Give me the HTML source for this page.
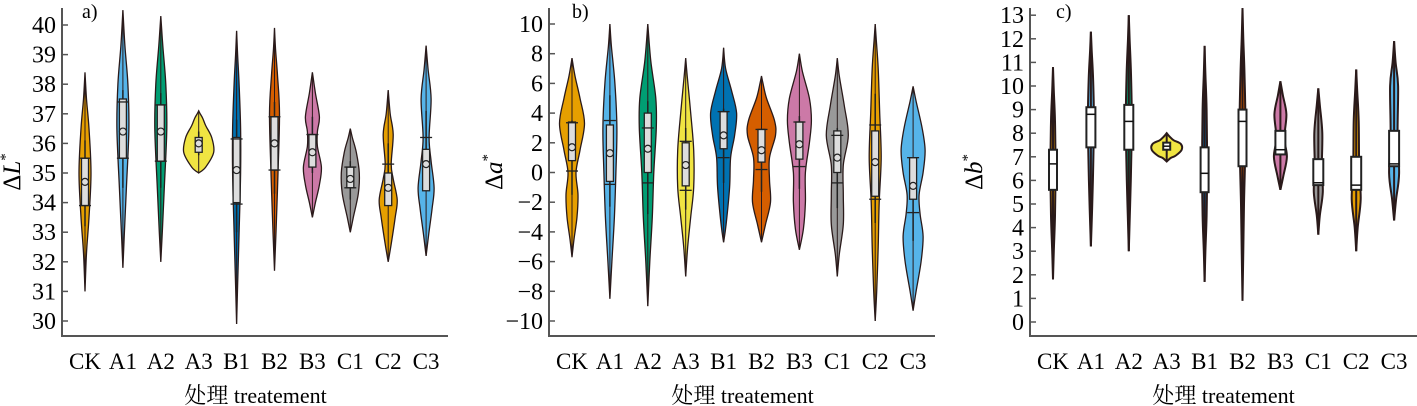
<!DOCTYPE html><html><head><meta charset="utf-8"><style>
body{margin:0;background:#fff}
svg{display:block}
text{font-family:"Liberation Serif","Noto Serif CJK SC",serif}
</style></head><body>
<svg id="s" width="1417" height="406" xmlns="http://www.w3.org/2000/svg"></svg>
<script>
const S=document.getElementById('s');let out='';
const F='font-family="Liberation Serif, Noto Serif CJK SC, serif"';
const col=['#E69F00','#56B4E9','#009E73','#F0E442','#0072B2','#D55E00','#CC79A7','#999999','#E69F00','#56B4E9'];
const cats=['CK','A1','A2','A3','B1','B2','B3','C1','C2','C3'];
function smooth(pts){
 let d='M'+pts[0][0]+','+pts[0][1];
 for(let i=0;i<pts.length-1;i++){const p0=pts[Math.max(i-1,0)],p1=pts[i],p2=pts[i+1],p3=pts[Math.min(i+2,pts.length-1)];
 d+=`C${p1[0]+(p2[0]-p0[0])/6},${p1[1]+(p2[1]-p0[1])/6} ${p2[0]-(p3[0]-p1[0])/6},${p2[1]-(p3[1]-p1[1])/6} ${p2[0]},${p2[1]}`;}
 return d;}
function panel(P){
 const Y=v=>P.y0+(v-P.v0)*P.k;
 out+=`<path d="M${P.ax},${P.top}V${P.bot}H${P.right}" fill="none" stroke="#555" stroke-width="2"/>`;
 P.ticks.forEach(t=>{const y=Y(t);out+=`<line x1="${P.ax}" x2="${P.ax+6}" y1="${y}" y2="${y}" stroke="#555" stroke-width="1.5"/>`;
  out+=`<text ${F} x="${P.ax-6}" y="${y+8}" font-size="24" text-anchor="end">${t<0?'−'+(-t):t}</text>`;});
 P.v.forEach((vd,i)=>{const cx=P.cx0+i*37.9;const [lo,hi,pts]=vd;
  const all=[[lo,0],...pts,[hi,0]];
  const R=all.map(p=>[cx+p[1],Y(p[0])]),L=all.slice().reverse().map(p=>[cx-p[1],Y(p[0])]);
  let d=smooth(R)+smooth(L).replace('M','L')+'Z';
  out+=`<path d="${d}" fill="${col[i]}" stroke="#2a1a1a" stroke-width="${P.type=='c'?2:1.3}"/>`;
  out+=`<line x1="${cx}" x2="${cx}" y1="${Y(lo)}" y2="${Y(hi)}" stroke="#2a1a1a" stroke-width="${P.type=='c'?2:1}"/>`;
  const b=P.b[i];
  if(P.type=='a'){const [q1,q3,m,w1,w2,c1,c2]=b;
   out+=`<line x1="${cx}" x2="${cx}" y1="${Y(w1)}" y2="${Y(w2)}" stroke="#222" stroke-width="1.5"/>`;
   out+=`<rect x="${cx-3.5}" y="${Y(q3)}" width="7" height="${Y(q1)-Y(q3)}" fill="#ddd" stroke="#222" stroke-width="1.3"/>`;
   [c1,c2].forEach(c=>{if(c!=null)out+=`<line x1="${cx-6}" x2="${cx+6}" y1="${Y(c)}" y2="${Y(c)}" stroke="#222" stroke-width="1.3"/>`;});
   out+=`<circle cx="${cx}" cy="${Y(m)}" r="3.5" fill="#ddd" stroke="#222" stroke-width="1.2"/>`;
  } else {const [q1,q3,m,hw]=b;
   out+=`<rect x="${cx-hw}" y="${Y(q3)}" width="${2*hw}" height="${Y(q1)-Y(q3)}" fill="#fff" stroke="#222" stroke-width="2"/>`;
   out+=`<line x1="${cx-hw}" x2="${cx+hw}" y1="${Y(m)}" y2="${Y(m)}" stroke="#111" stroke-width="1.5"/>`;}
  out+=`<text ${F} x="${cx}" y="369" font-size="23" text-anchor="middle">${cats[i]}</text>`;});
 out+=`<text ${F} x="${P.cx0+4.5*37.9}" y="403" font-size="22" text-anchor="middle">处理 treatement</text>`;
 out+=`<text ${F} x="${P.lx}" y="18" font-size="20">${P.lab}</text>`;
 out+=`<text ${F} transform="translate(${P.ylx},${P.yly}) rotate(-90)" font-size="25" text-anchor="middle">Δ<tspan font-style="italic">${P.yv}</tspan><tspan font-size="15" dy="-10">*</tspan></text>`;
}
panel({ax:62,top:8,bot:336,right:448,y0:321,v0:30,k:-29.6,ticks:[30,31,32,33,34,35,36,37,38,39,40],cx0:85,lx:82,lab:'a)',ylx:20,yly:172,yv:'L',type:'a',
 v:[[31,38.4,[[32.3,1.5],[33.5,4],[35,6],[36.5,4],[37.5,1.5]]],
 [31.8,40.5,[[33,1.5],[34.5,3.5],[36.5,6],[38,5],[39.3,2]]],
 [32,40.3,[[33,1.5],[34.5,3.5],[36.5,6],[38,5],[39.3,2]]],
 [35,37.1,[[35.2,7],[35.7,15],[36.2,13],[36.6,7],[36.85,4],[37,1.5]]],
 [29.9,39.8,[[31.2,1],[33,2.5],[35,4],[36.5,4],[38,2.5],[39,1]]],
 [31.7,39.9,[[33,1.5],[35,3.5],[37,5],[38.3,3],[39.2,1]]],
 [33.5,38.4,[[34,3],[34.6,7],[35.2,9],[35.9,5],[36.4,5],[36.9,7],[37.7,3]]],
 [33,36.5,[[33.5,3],[34.3,8],[35,9],[35.7,6],[36.2,2]]],
 [32,37.8,[[32.6,3],[33.5,7],[34.1,9],[34.8,5],[35.3,3],[36.3,5],[37,2]]],
 [32.2,39.3,[[32.9,2.5],[33.8,6],[34.5,8],[35.4,5],[36.2,3],[37.5,5],[38.5,2]]]],
 b:[[33.9,35.5,34.7,33.2,36.1,33.9,35.5],[35.5,37.5,36.4,34.5,37.8,35.5,37.4],[35.4,37.3,36.4,34.5,37.7,35.4,37.3],[35.7,36.2,36,35.6,36.4,null,null],[34,36.2,35.1,33,36.8,33.95,36.15],[35.1,36.9,36,34.3,37.4,35.1,36.9],[35.2,36.3,35.7,35,36.9,null,36.3],[34.5,35.2,34.8,34.1,35.4,34.5,35.2],[33.9,35,34.5,33.9,36,null,35.3],[34.4,35.8,35.3,34.4,37.1,null,36.2]]});
panel({ax:549,top:8,bot:336,right:935,y0:321,v0:-10,k:-14.85,ticks:[-10,-8,-6,-4,-2,0,2,4,6,8,10],cx0:572,lx:572,lab:'b)',ylx:502,yly:172,yv:'a',type:'a',
 v:[[-5.7,7.7,[[-4.5,2],[-3,5],[-1.5,6],[0,4],[1.5,8],[3.3,12.5],[5,8],[6.5,3]]],
 [-8.5,10,[[-6,2],[-3,4.5],[0,6],[3,7],[6,5],[8.5,1.5]]],
 [-9,10,[[-6,2],[-3,4.5],[0,6],[3,8.5],[5,8],[7.5,3]]],
 [-7,7.7,[[-5,2],[-3,5],[-1,8],[1.5,8],[4,5],[6.5,1.5]]],
 [-4.7,8.4,[[-3.5,2.5],[-1,6],[1,7],[2.5,11],[4,13],[5.5,8],[7,2]]],
 [-4.7,6.5,[[-3.5,4],[-2,9],[-0.5,8],[1,8],[2.5,14],[3.5,13],[5,5],[6,1.5]]],
 [-5.2,8,[[-3.8,4],[-2,6],[0,6],[2,10],[3.5,12],[5,10],[6.8,3]]],
 [-7,7.7,[[-5.5,2],[-3.5,6],[-1.5,6],[0.5,6],[2.5,11],[4.5,7],[6.5,2]]],
 [-10,10,[[-8,1.5],[-5,3],[-2,4],[1,6],[4,4.5],[7,3],[9,1]]],
 [-9.3,5.8,[[-8,3],[-6,8],[-4.3,10],[-2.8,7],[-1.5,6],[0,10],[1.5,12],[3,9],[4.8,3]]]],
 b:[[0.8,3.4,1.7,-1.5,3.5,0.1,3.35],[-0.6,3.2,1.3,-2.3,5.2,-0.8,3.5],[0,4,1.6,-2.8,4.8,-0.7,3],[-0.9,2,0.5,-2.5,3,-1.2,2.1],[1.6,4.1,2.5,-0.7,4.3,1,4.1],[0.7,2.9,1.5,-1.3,2.9,0.2,2.9],[0.9,3.4,1.9,-1.1,3.8,0.4,3.4],[0,2.8,1,-2.4,3,-0.7,2.5],[-1.6,2.8,0.7,-3.4,5.3,-1.8,3.2],[-1.8,1,-0.9,-4.6,1,-2.7,1]]});
panel({ax:1030,top:8,bot:336,right:1417,y0:322,v0:0,k:-23.6,ticks:[0,1,2,3,4,5,6,7,8,9,10,11,12,13],cx0:1053,lx:1056,lab:'c)',ylx:982,yly:172,yv:'b',type:'c',
 v:[[1.8,10.8,[[3,0.8],[4.5,2],[6.5,2.5],[8.5,2],[9.8,0.8]]],
 [3.2,12.3,[[4.5,1],[6,2],[8.5,3],[10.3,2.2],[11.5,0.8]]],
 [3,13,[[4.5,1],[6,2],[8.5,3],[10.5,2.2],[12,0.8]]],
 [6.8,8,[[6.95,4],[7.05,9],[7.3,15],[7.55,14],[7.7,7],[7.85,3]]],
 [1.7,11.7,[[3,0.8],[4.5,2],[6.5,2.5],[9,2],[10.5,0.8]]],
 [0.9,13.3,[[3,0.8],[5,1.5],[8,3],[10.5,2],[12,0.8]]],
 [5.6,10.2,[[6.2,3],[7,6.5],[7.8,4],[8.8,6],[9.6,2.5]]],
 [3.7,9.9,[[4.5,1.5],[5.5,4.5],[6.5,3.5],[8,4],[9.2,1.5]]],
 [3,10.7,[[4,1.5],[5.2,4.5],[6.5,3],[8.5,2.5],[9.8,1]]],
 [4.3,11.9,[[5.2,2],[6.3,5],[8,3.5],[10,4],[11,1.5]]]],
 b:[[5.6,7.3,6.7,4],[7.4,9.1,8.8,4.5],[7.3,9.2,8.5,4.5],[7.3,7.6,7.45,3.5],[5.5,7.4,6.3,4],[6.6,9,8.5,4],[7.1,8.1,7.3,5],[5.8,6.9,5.9,5],[5.6,7,5.8,5],[6.6,8.1,6.7,5]]});
S.innerHTML=out;
</script>
</body></html>
